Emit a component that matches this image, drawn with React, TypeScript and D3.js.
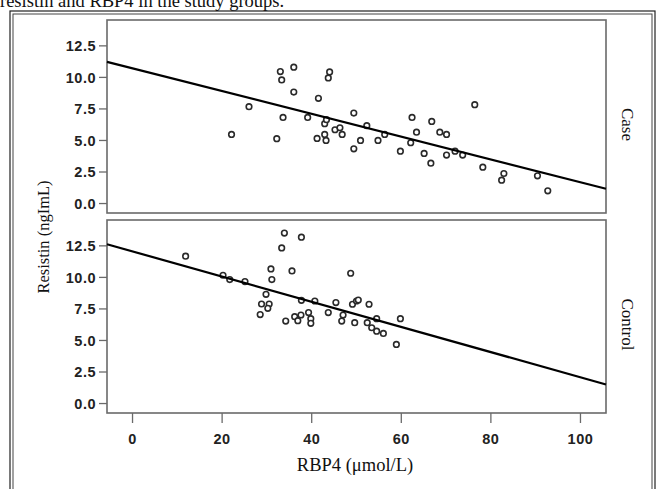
import * as d3 from 'd3'

// regression fits (Resistin = intercept + slope * RBP4)
const groups = ['Case', 'Control']
const fitIntercepts = [10.72, 12.06]
const fitSlopes = [-0.0903, -0.0998]

// Case group: [RBP4, Resistin]
const caseRbp4 = [22.1, 26.0, 32.2, 33.0, 33.3, 33.6, 36.0, 36.0, 39.1, 41.5, 41.2, 42.9, 42.9, 43.2, 43.7, 44.0, 43.3,
  49.4, 45.2, 46.3, 46.8, 50.9, 49.4, 52.3, 54.8, 56.3, 59.8, 62.1, 62.4, 63.4, 65.1, 66.6, 66.8, 68.6, 70.1, 70.1,
  72.0, 73.7, 76.4, 78.2, 82.9, 82.4, 90.4, 92.7]
const caseResistin = [5.48, 7.68, 5.14, 10.46, 9.80, 6.83, 10.81, 8.84, 6.83, 8.34, 5.16, 6.33, 5.48, 5.0, 9.96, 10.43, 6.65,
  7.17, 5.85, 6.01, 5.48, 5.0, 4.34, 6.17, 5.0, 5.48, 4.15, 4.82, 6.83, 5.66, 3.97, 3.20, 6.51, 5.66, 5.48, 3.84,
  4.15, 3.84, 7.84, 2.88, 2.38, 1.85, 2.2, 1.01]

// Control group: [RBP4, Resistin]
const controlRbp4 = [11.85, 20.2, 21.7, 25.1, 29.8, 28.8, 30.5, 30.2, 28.5, 30.9, 31.1, 33.3, 33.9, 35.6, 37.7, 34.2,
  36.2, 36.9, 37.6, 37.7, 39.3, 39.8, 39.8, 40.7, 43.7, 48.7, 45.4, 46.7, 47.0, 49.1, 50.0, 50.4, 49.6, 52.8, 52.4,
  53.4, 54.5, 54.5, 56.0, 58.9, 59.8]
const controlResistin = [11.68, 10.17, 9.83, 9.67, 8.66, 7.89, 7.89, 7.55, 7.05, 10.67, 9.83, 12.34, 13.51, 10.51, 13.19, 6.54,
  6.89, 6.57, 7.02, 8.18, 7.21, 6.73, 6.36, 8.13, 7.21, 10.33, 8.0, 6.54, 7.02, 7.87, 8.13, 8.21, 6.41, 7.87, 6.41,
  6.01, 6.73, 5.74, 5.56, 4.69, 6.73]

const xTicks = [0, 20, 40, 60, 80, 100]
const yTicks = [0, 2.5, 5, 7.5, 10, 12.5]

const W = 658, H = 489
const X0 = 107, X1 = 606
const panels = [{ top: 20, bottom: 213 }, { top: 220, bottom: 413 }]
const serif = '"Liberation Serif", "Times New Roman", serif'
const sans = '"Liberation Sans", Arial, sans-serif'

export default function App() {
  const x = d3.scaleLinear().domain([-5.7, 105.7]).range([X0, X1])
  const series = [
    d3.zip(caseRbp4, caseResistin),
    d3.zip(controlRbp4, controlResistin),
  ]
  const [dx0, dx1] = x.domain()

  return (
    <svg width={W} height={H} style={{ position: 'absolute', left: 0, top: 0, background: '#fff' }}>
      {/* caption, cut at the top as in the source page */}
      <text x={0} y={7} fontFamily={serif} fontSize={18.5} fill="#111">resistin and RBP4 in the study groups.</text>

      {/* double frame */}
      <rect x={10} y={11} width={645} height={495} fill="none" stroke="#222" strokeWidth={1.2} />
      <rect x={13} y={14} width={639} height={490} fill="none" stroke="#444" strokeWidth={1} />

      {panels.map((p, i) => {
        const y = d3.scaleLinear().domain([-0.75, 14.55]).range([p.bottom, p.top])
        const line = d3.line<number>().x(v => x(v)).y(v => y(fitIntercepts[i] + fitSlopes[i] * v))
        return (
          <g key={groups[i]}>
            <rect x={X0} y={p.top} width={X1 - X0} height={p.bottom - p.top} fill="#fff" stroke="#6a6a6a" strokeWidth={1.6} />
            {yTicks.map(t => (
              <g key={t}>
                <line x1={X0 - 8} x2={X0} y1={y(t)} y2={y(t)} stroke="#6a6a6a" strokeWidth={1.3} />
                <text x={X0 - 11} y={y(t)} dy="0.36em" textAnchor="end" fontFamily={sans} fontWeight="bold"
                  fontSize={14.5} letterSpacing={0.5} fill="#222">{t.toFixed(1)}</text>
              </g>
            ))}
            {series[i].map(([a, b], k) => (
              <circle key={k} cx={x(a)} cy={y(b)} r={2.8} fill="#fff" stroke="#2a2a2a" strokeWidth={1.6} />
            ))}
            <path d={line([dx0, dx1]) ?? ''} fill="none" stroke="#000" strokeWidth={2.2} />
            <text transform={`translate(622,${(p.top + p.bottom) / 2 + 8}) rotate(90)`} textAnchor="middle"
              fontFamily={serif} fontSize={17} fill="#111">{groups[i]}</text>
          </g>
        )
      })}

      {/* x axis */}
      {xTicks.map(t => (
        <g key={t}>
          <line x1={x(t)} x2={x(t)} y1={413} y2={423} stroke="#6a6a6a" strokeWidth={1.3} />
          <text x={x(t)} y={444} textAnchor="middle" fontFamily={sans} fontWeight="bold" fontSize={14.5}
            letterSpacing={0.5} fill="#222">{t}</text>
        </g>
      ))}
      <text x={355} y={471} textAnchor="middle" fontFamily={serif} fontSize={18.5} fill="#111">RBP4 (μmol/L)</text>
      <text transform="translate(49,237) rotate(-90)" textAnchor="middle" fontFamily={serif} fontSize={16.5}
        fill="#111">Resistin (ngImL)</text>
    </svg>
  )
}
